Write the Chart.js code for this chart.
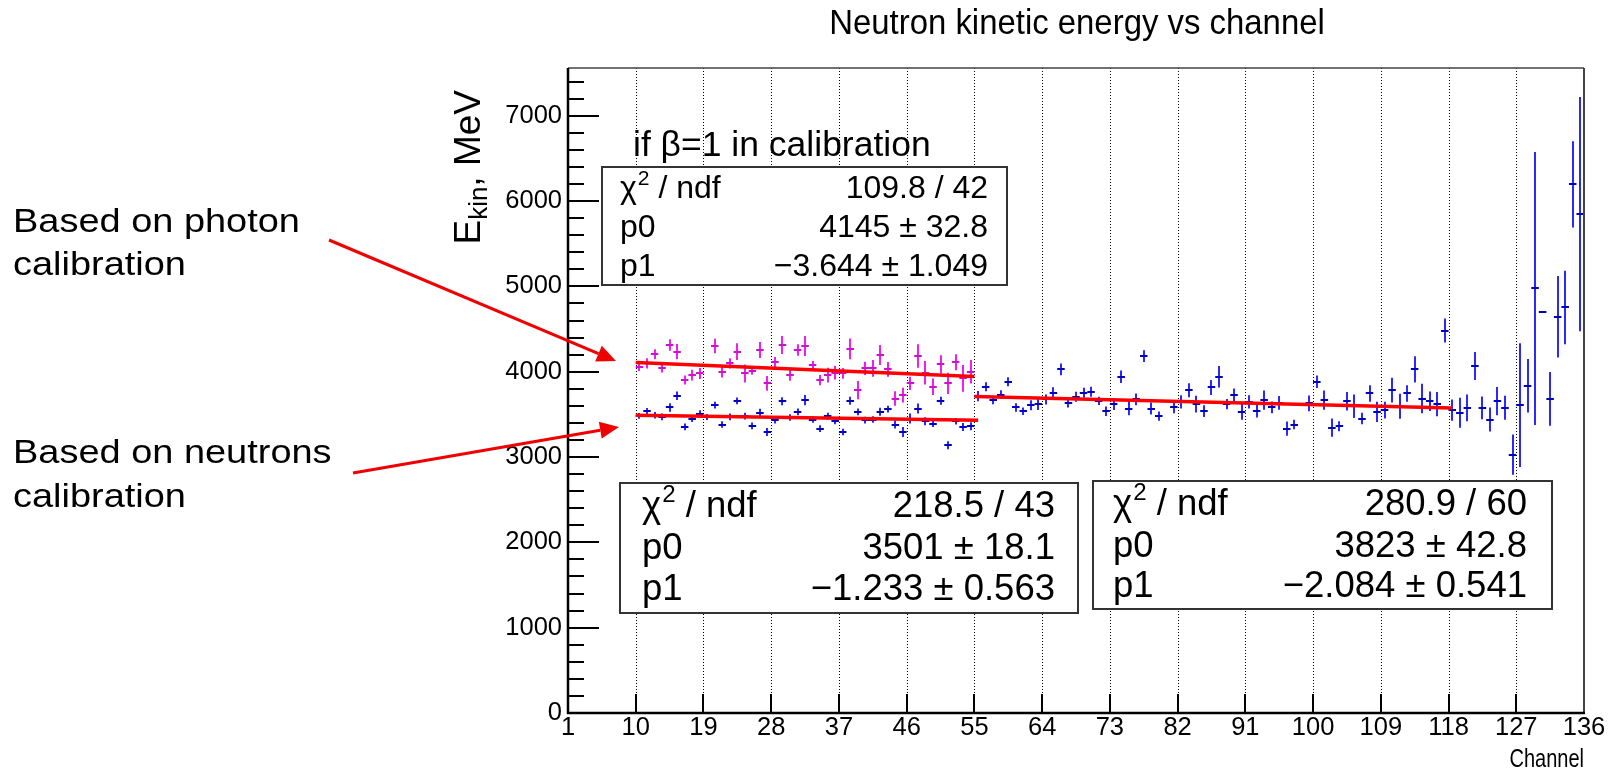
<!DOCTYPE html>
<html>
<head>
<meta charset="utf-8">
<title>Neutron kinetic energy vs channel</title>
<script src="https://cdn.jsdelivr.net/npm/chart.js@4.4.1/dist/chart.umd.min.js"></script>
<style>
  html, body { margin: 0; padding: 0; background: #fff; }
  canvas { display: block; }
</style>
</head>
<body>
<canvas id="energyChart" width="1610" height="770"></canvas>
<script>
const FONT = "'Liberation Sans', Arial, Helvetica, sans-serif";

// axis ticks
const xTicks = [1, 10, 19, 28, 37, 46, 55, 64, 73, 82, 91, 100, 109, 118, 127, 136];
const yTicks = [0, 1000, 2000, 3000, 4000, 5000, 6000, 7000];
const xRange = [1, 136];
const yRange = [0, 7560];

// both histograms start at channel 10, one value per channel (null = empty bin)
const firstChannel = 10;

// E_kin from photon calibration, channels 10..54
const photonE = [
  4059, 4098, 4204, 4047, 4314, 4235, 3902, 3961, 3980, null,
  4302, 4000, 4098, 4235, 3980, 4012, 4255, 3863, 4110, 4314,
  3961, 4255, 4302, 4078, 3902, 3961, 3988, 3980, 4267, 3784,
  4039, 4039, 4196, 4027, 3686, 3726, 3863, 4184, 3988, 3824,
  4086, 3863, 4110, 3922, 4000
];
const photonErr = [
  49, 59, 59, 55, 67, 90, 53, 63, 65, null,
  86, 67, 59, 98, 106, 47, 94, 86, 63, 106,
  67, 67, 118, 47, 59, 86, 78, 63, 122, 106,
  78, 98, 118, 86, 86, 86, 78, 137, 137, 98,
  106, 125, 94, 157, 137
];

// E_kin from neutron calibration, channels 10..135
const neutronE = [
  3483, 3537, 3490, 3471, 3581, 3718, 3353, 3451, 3510, 3470,
  3608, 3381, 3471, 3659, 3479, 3365, 3518, 3294, 3432, 3655,
  3463, 3530, 3667, 3440, 3334, 3479, 3424, 3294, 3659, 3530,
  3432, 3440, 3530, 3561, 3381, 3294, 3451, 3569, 3420, 3392,
  3659, 3138, 3420, 3353, 3361, 3714, 3824, 3667, 3733, 3882,
  3581, 3537, 3608, 3620, 3675, 3753, 4027, 3628, 3706, 3753,
  3765, 3659, 3537, 3620, 3941, 3569, 3675, 4184, 3569, 3479,
  null, 3581, 3647, 3784, 3620, 3537, 3816, 3941, 3620, 3726,
  3530, 3647, 3541, 3667, 3581, 3635, 3334, 3381, null, 3628,
  3882, 3667, 3345, 3361, 3655, 3596, 3451, 3745, 3530, 3549,
  3784, 3596, 3745, 4027, 3686, 3655, 3620, 4483, 3549, 3518,
  3577, 4067, 3577, 3440, 3655, 3577, 3028, 3608, 3835, 4976,
  4702, 3682, 4644, 4753, 6196, 5847
];
const neutronErr = [
  33, 39, 39, 39, 49, 49, 39, 39, 39, 35,
  39, 39, 39, 39, 39, 39, 47, 47, 39, 47,
  39, 39, 59, 39, 39, 39, 39, 39, 47, 39,
  39, 39, 47, 39, 47, 59, 59, 59, 47, 39,
  47, 47, 39, 47, 47, 59, 53, 47, 49, 53,
  49, 45, 59, 69, 59, 65, 69, 47, 59, 59,
  59, 49, 55, 69, 74, 78, 69, 69, 69, 55,
  null, 69, 78, 82, 98, 69, 88, 127, 59, 78,
  92, 78, 78, 114, 69, 82, 84, 55, null, 92,
  73, 112, 108, 59, 108, 137, 67, 98, 118, 98,
  145, 147, 98, 153, 172, 114, 143, 141, 125, 176,
  157, 165, 133, 141, 165, 141, 235, 725, 314, 1600,
  0, 314, 478, 431, 506, 1373
];

// linear fits p0 + p1*x : photon, neutron (low), neutron (high)
const fitChi2 = [109.8, 218.5, 280.9];
const fitNdf = [42, 43, 60];
const fitP0 = [4145, 3501, 3823];
const fitP0Err = [32.8, 18.1, 42.8];
const fitP1 = [-3.644, -1.233, -2.084];
const fitP1Err = [1.049, 0.563, 0.541];
const fitFrom = [10, 10, 55];
const fitTo = [55, 55.5, 118.5];

function toPoints(values, errors) {
  const pts = [];
  values.forEach((v, i) => {
    if (v === null) return;
    pts.push({ x: firstChannel + i + 0.5, y: v, err: errors[i] });
  });
  return pts;
}

function fitLine(k) {
  return [fitFrom[k], fitTo[k]].map(x => ({ x: x, y: fitP0[k] + fitP1[k] * x }));
}

function fmtSigned(v, digits) {
  return (v < 0 ? '\u2212' : '') + Math.abs(v).toFixed(digits);
}

function line(ctx, x1, y1, x2, y2) {
  ctx.beginPath();
  ctx.moveTo(x1, y1);
  ctx.lineTo(x2, y2);
  ctx.stroke();
}

// dotted grid + error-bar crosses, under the fit lines
const errorBars = {
  id: 'errorBars',
  beforeDatasetsDraw(chart) {
    const { ctx, chartArea, scales: { x, y } } = chart;
    ctx.save();
    ctx.strokeStyle = '#000';
    ctx.lineWidth = 1;
    ctx.setLineDash([1, 2]);
    xTicks.slice(1, -1).forEach(v => {
      const px = Math.round(x.getPixelForValue(v)) + 0.5;
      line(ctx, px, chartArea.top, px, chartArea.bottom);
    });
    ctx.restore();

    chart.data.datasets.forEach(ds => {
      if (!ds.barColor) return;
      ctx.save();
      ctx.lineWidth = 2;
      ds.data.forEach(p => {
        const px = Math.round(x.getPixelForValue(p.x));
        const py = Math.round(y.getPixelForValue(p.y));
        ctx.strokeStyle = ds.barColor;
        if (p.err > 0) {
          line(ctx, px, y.getPixelForValue(p.y - p.err), px, y.getPixelForValue(p.y + p.err));
        }
        ctx.strokeStyle = ds.crossColor;
        line(ctx, x.getPixelForValue(p.x - 0.5), py, x.getPixelForValue(p.x + 0.5), py);
      });
      ctx.restore();
    });
  }
};

// frame and inside ticks, ROOT style
const frame = {
  id: 'frame',
  afterDatasetsDraw(chart) {
    const { ctx, chartArea: a, scales: { x, y } } = chart;
    ctx.save();
    ctx.strokeStyle = '#000';
    ctx.lineWidth = 2;
    yTicks.forEach(v => {
      const py = Math.round(y.getPixelForValue(v));
      line(ctx, a.left, py, a.left + 31, py);
    });
    for (let v = 200; v < yRange[1]; v += 200) {
      if (v % 1000 === 0) continue;
      const py = Math.round(y.getPixelForValue(v));
      line(ctx, a.left, py, a.left + 16, py);
    }
    xTicks.forEach(v => {
      const px = Math.round(x.getPixelForValue(v));
      line(ctx, px, a.bottom, px, a.bottom - 19);
    });
    ctx.strokeStyle = '#444';
    ctx.lineWidth = 1.5;
    line(ctx, a.left, a.top, a.right, a.top);
    ctx.lineWidth = 2;
    line(ctx, a.right, a.top, a.right, a.bottom);
    ctx.strokeStyle = '#000';
    ctx.lineWidth = 2.5;
    line(ctx, a.left, a.top, a.left, a.bottom + 1);
    line(ctx, a.left - 1, a.bottom, a.right + 1, a.bottom);
    ctx.restore();
  }
};

const statsBoxes = [
  { left: 602, top: 167, right: 1007, bottom: 285, size: 32, textL: 620, textR: 988, rows: [198, 237, 276] },
  { left: 620, top: 483, right: 1078, bottom: 613, size: 36.5, textL: 642, textR: 1055, rows: [517, 559, 600] },
  { left: 1093, top: 481, right: 1552, bottom: 609, size: 36.5, textL: 1113, textR: 1527, rows: [515, 557, 597] }
];
// box order: photon fit, low neutron fit, high neutron fit
const boxFit = [0, 1, 2];

function drawStatsBox(ctx, b, k) {
  ctx.save();
  ctx.fillStyle = '#fff';
  ctx.fillRect(b.left, b.top, b.right - b.left, b.bottom - b.top);
  ctx.strokeStyle = '#333';
  ctx.lineWidth = 2;
  ctx.strokeRect(b.left, b.top, b.right - b.left, b.bottom - b.top);
  ctx.fillStyle = '#000';
  ctx.textBaseline = 'alphabetic';
  const f = s => `${s}px ${FONT}`;

  // chi^2 / ndf label
  ctx.textAlign = 'left';
  ctx.font = f(b.size);
  let tx = b.textL;
  ctx.fillText('\u03c7', tx, b.rows[0]);
  tx += ctx.measureText('\u03c7').width + 1;
  ctx.font = f(b.size * 0.66);
  ctx.fillText('2', tx, b.rows[0] - b.size * 0.4);
  tx += ctx.measureText('2').width;
  ctx.font = f(b.size);
  ctx.fillText(' / ndf', tx, b.rows[0]);
  ctx.fillText('p0', b.textL, b.rows[1]);
  ctx.fillText('p1', b.textL, b.rows[2]);

  ctx.textAlign = 'right';
  ctx.fillText(fitChi2[k].toFixed(1) + ' / ' + fitNdf[k], b.textR, b.rows[0]);
  ctx.fillText(fitP0[k] + ' \u00b1 ' + fitP0Err[k].toFixed(1), b.textR, b.rows[1]);
  ctx.fillText(fmtSigned(fitP1[k], 3) + ' \u00b1 ' + fitP1Err[k].toFixed(3), b.textR, b.rows[2]);
  ctx.restore();
}

function stretchedText(ctx, text, x, y, sx) {
  ctx.save();
  ctx.translate(x, y);
  ctx.scale(sx, 1);
  ctx.fillText(text, 0, 0);
  ctx.restore();
}

function arrow(ctx, x1, y1, x2, y2) {
  const ang = Math.atan2(y2 - y1, x2 - x1);
  const len = 19, half = 8.5;
  const bx = x2 - len * Math.cos(ang), by = y2 - len * Math.sin(ang);
  ctx.lineWidth = 3;
  line(ctx, x1, y1, bx, by);
  ctx.beginPath();
  ctx.moveTo(x2, y2);
  ctx.lineTo(bx + half * Math.sin(ang), by - half * Math.cos(ang));
  ctx.lineTo(bx - half * Math.sin(ang), by + half * Math.cos(ang));
  ctx.closePath();
  ctx.fill();
}

const labels = {
  id: 'labels',
  afterDraw(chart) {
    const ctx = chart.ctx;
    const a = chart.chartArea;
    ctx.save();
    ctx.fillStyle = '#000';
    ctx.textBaseline = 'alphabetic';

    ctx.font = `35px ${FONT}`;
    ctx.textAlign = 'center';
    stretchedText(ctx, 'Neutron kinetic energy vs channel', 1077, 34, 0.94);

    ctx.font = `25px ${FONT}`;
    ctx.textAlign = 'right';
    stretchedText(ctx, 'Channel', a.right, 767, 0.8);

    // y title, rotated, with subscript
    ctx.save();
    ctx.translate(480, 90);
    ctx.rotate(-Math.PI / 2);
    ctx.textAlign = 'left';
    ctx.font = `37px ${FONT}`;
    const wE = ctx.measureText('E').width;
    const wRest = ctx.measureText(', MeV').width;
    ctx.font = `26px ${FONT}`;
    const wSub = ctx.measureText('kin').width;
    let tx = -(wE + wSub + wRest);
    ctx.font = `37px ${FONT}`;
    ctx.fillText('E', tx, 0);
    tx += wE;
    ctx.font = `26px ${FONT}`;
    ctx.fillText('kin', tx, 7);
    tx += wSub;
    ctx.font = `37px ${FONT}`;
    ctx.fillText(', MeV', tx, 0);
    ctx.restore();

    ctx.textAlign = 'left';
    ctx.font = `35.5px ${FONT}`;
    ctx.fillText('if \u03b2=1 in calibration', 633, 156);

    statsBoxes.forEach((b, i) => drawStatsBox(ctx, b, boxFit[i]));

    // notes on the left
    ctx.fillStyle = '#000';
    ctx.textAlign = 'left';
    ctx.font = `33px ${FONT}`;
    stretchedText(ctx, 'Based on photon', 13, 232, 1.15);
    stretchedText(ctx, 'calibration', 13, 275, 1.15);
    stretchedText(ctx, 'Based on neutrons', 13, 463, 1.15);
    stretchedText(ctx, 'calibration', 13, 507, 1.15);

    ctx.strokeStyle = '#f00000';
    ctx.fillStyle = '#f00000';
    arrow(ctx, 329, 240, 616, 361);
    arrow(ctx, 353, 473, 619, 427);
    ctx.restore();
  }
};

const ctx = document.getElementById('energyChart').getContext('2d');

new Chart(ctx, {
  type: 'scatter',
  data: {
    datasets: [
      { label: 'photon calibration', data: toPoints(photonE, photonErr), pointRadius: 0, barColor: '#f01ef0', crossColor: '#d010d0' },
      { label: 'neutron calibration', data: toPoints(neutronE, neutronErr), pointRadius: 0, barColor: '#2a2aff', crossColor: '#0000c0' },
      { type: 'line', label: 'fit photon', data: fitLine(0), showLine: true, borderColor: '#ff0000', borderWidth: 3.5, pointRadius: 0 },
      { type: 'line', label: 'fit neutron low', data: fitLine(1), showLine: true, borderColor: '#ff0000', borderWidth: 3.5, pointRadius: 0 },
      { type: 'line', label: 'fit neutron high', data: fitLine(2), showLine: true, borderColor: '#ff0000', borderWidth: 3.5, pointRadius: 0 }
    ]
  },
  options: {
    responsive: false,
    animation: false,
    events: [],
    layout: { padding: { left: 0, right: 26, top: 68, bottom: 0 } },
    plugins: { legend: { display: false }, tooltip: { enabled: false } },
    scales: {
      x: {
        type: 'linear',
        min: xRange[0],
        max: xRange[1],
        afterBuildTicks: s => { s.ticks = xTicks.map(v => ({ value: v })); },
        afterFit: s => { s.height = 57; },
        grid: { display: false, drawTicks: false },
        border: { display: false },
        ticks: { color: '#000', font: { family: FONT, size: 25.5 }, padding: 0, maxRotation: 0, autoSkip: false, callback: v => String(v) }
      },
      y: {
        type: 'linear',
        min: yRange[0],
        max: yRange[1],
        afterBuildTicks: s => { s.ticks = yTicks.map(v => ({ value: v })); },
        afterFit: s => { s.width = 568; },
        grid: { display: false, drawTicks: false },
        border: { display: false },
        ticks: { color: '#000', font: { family: FONT, size: 25.5 }, padding: 6, autoSkip: false, callback: v => String(v) }
      }
    }
  },
  plugins: [errorBars, frame, labels]
});
</script>
</body>
</html>
